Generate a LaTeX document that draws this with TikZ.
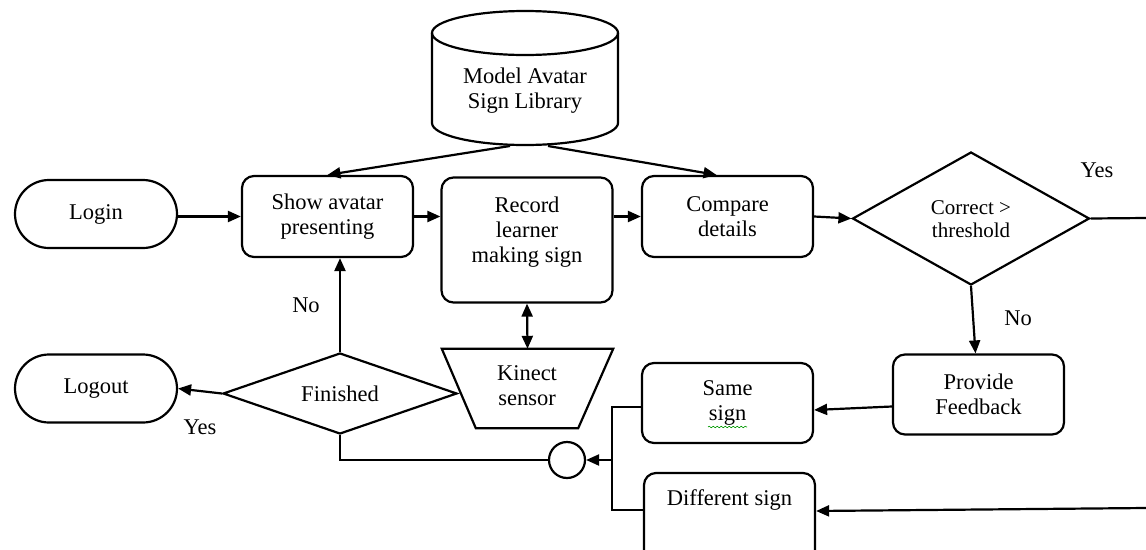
\documentclass[tikz,border=0pt]{standalone}
\usepackage{fontspec}
\setmainfont{Liberation Serif}
\usetikzlibrary{arrows.meta,decorations.pathmorphing,shapes.geometric}
\tikzset{
  base/.style={font=\fontsize{22.5}{25}\selectfont, align=center, inner sep=0pt},
  box/.style={base, draw, line width=2.2pt, rounded corners=12pt, minimum width=171pt, minimum height=81pt},
  term/.style={base, draw, line width=2.2pt, rounded corners=34pt, minimum width=162pt, minimum height=68pt},
  dec/.style={base, draw, line width=2.2pt, diamond},
  txt/.style={base},
  lab/.style={base},
  conn/.style={line width=2.2pt},
  arr/.style={conn, -{Triangle[length=13pt,width=11pt]}},
  darr/.style={conn, {Triangle[length=13pt,width=11pt]}-{Triangle[length=13pt,width=11pt]}},
}
\begin{document}
\begin{tikzpicture}[x=1pt, y=-1pt]
\clip (0,0) rectangle (1146,549);
\fill[white] (0,0) rectangle (1146,549);

% cylinder library
\node[txt] (lib) at (525,90.5) {Model Avatar\\Sign Library};
\coordinate (libL) at (510,146);
\coordinate (libR) at (548,146);
\draw[line width=2.2pt] (525,33) ellipse [x radius=93, y radius=22];
\draw[line width=2.2pt] (432,33) -- (432,123) .. controls (432,135.1) and (473.6,145) .. (525,145) .. controls (576.4,145) and (618,135.1) .. (618,123) -- (618,33);

% top row
\node[term] (login) at (96,214) {Login};
\node[box] (show) at (327.5,216.5) {Show avatar\\presenting};
\node[box, minimum height=125pt] (rec) at (527,240) {};
\node[txt] (rect) at (527,232) {Record\\learner\\making sign};
\node[box] (cmp) at (727.5,216.5) {Compare\\details};
\node[dec, minimum width=237pt, minimum height=133pt] (cor) at (971,218.5) {};
\node[txt, font=\fontsize{21}{23}\selectfont] (cort) at (971,219) {Correct >\\threshold};
\coordinate (yesR) at (1146,218);
\coordinate (yesB) at (1146,508);

% lower part
\node[term] (logout) at (96,388.5) {Logout};
\node[dec, minimum width=234pt, minimum height=81pt] (fin) at (340,393.5) {};
\node[txt] (fint) at (340,394) {Finished};
\node[base, minimum width=171pt, minimum height=79pt] (kin) at (527.5,388.5) {};
\node[txt] (kint) at (527,385.5) {Kinect\\sensor};
\draw[line width=2.2pt] (kin.north west) -- (kin.north east) -- ([xshift=-35pt]kin.south east) -- ([xshift=34pt]kin.south west) -- cycle;
\node[box, minimum height=80pt] (fb) at (978.5,394.5) {Provide\\Feedback};
\node[box, minimum height=80pt] (same) at (727.5,403) {Same\\sign};
\draw[green!60!black, line width=0.6pt, decorate, decoration={snake, amplitude=0.8pt, segment length=4pt}] (708,427) -- (747,427);
\node[box, minimum height=90pt] (diff) at (729.5,518) {};
\node[txt] (difft) at (729.5,500) {Different sign};
\node[draw, circle, line width=2.2pt, minimum size=36pt, inner sep=0pt] (circ) at (567,460) {};
\coordinate (jn) at (612,460);

% labels
\node[lab] (lyes1) at (1097,170) {Yes};
\node[lab] (lno1) at (1018,318) {No};
\node[lab] (lno2) at (306,305) {No};
\node[lab] (lyes2) at (200,427) {Yes};

% connectors
\draw[arr] (libL) -- (show.north);
\draw[arr] (libR) -- ([xshift=-11pt]cmp.north);
\draw[arr] (login.east |- show.west) -- (show.west);
\draw[arr] (show.east) -- (show.east -| rec.west);
\draw[arr] (rec.east |- cmp.west) -- (cmp.west);
\draw[arr] (cmp.east) -- (cor.west);
\draw[conn] (cor.east) -- (yesR);
\draw[arr] (cor.south) -- ([xshift=-3pt]fb.north);
\draw[arr] ([yshift=-12pt]fb.west) -- ([yshift=-7pt]same.east);
\draw[arr] (yesB) -- ([yshift=7pt]diff.east);
\draw[conn] ([yshift=-4pt]same.west) -| (jn) |- ([yshift=8pt]diff.west);
\draw[arr] (jn) -- (circ.east);
\draw[conn] (circ.west) -| (fin.south);
\draw[arr] (fin.north) -- (fin.north |- show.south);
\draw[arr] (fin.west) -- (logout.east);
\draw[darr] (rec.south) -- (kin.north);
\end{tikzpicture}
\end{document}
